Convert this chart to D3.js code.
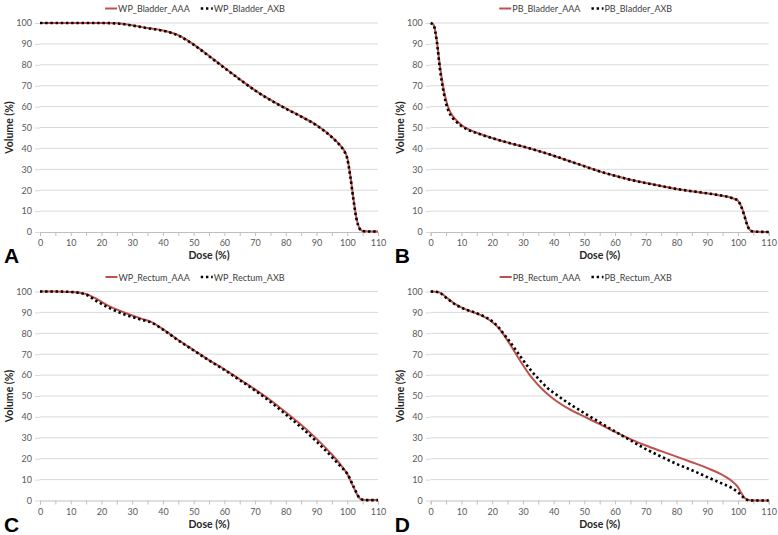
<!DOCTYPE html>
<html><head><meta charset="utf-8">
<script src="https://cdn.jsdelivr.net/npm/d3@7"></script>
<style>
body{margin:0;background:#fff;}
svg{display:block;}
text{font-family:Lato,"Liberation Sans",Arial,sans-serif;}
</style></head>
<body><svg id="chart" width="778" height="535"></svg>
<script>
// ---------- DATA ----------
const xTickValues = [0,10,20,30,40,50,60,70,80,90,100,110];
const yTickValues = [0,10,20,30,40,50,60,70,80,90,100];

// Panel A – WP Bladder
const wpBladderDose = [0,10,20,25,30,35,40,45,50,55,60,65,70,75,80,85,90,95,98,99,100,101,102,103,104,105,106,110];
const wpBladderAAA  = [100,100,100,99.9,98.9,97.6,96.4,94.2,89.8,84.3,78.7,73.1,67.8,63.2,59.1,55.3,51.2,45.5,41,39,35.5,27,16,6.5,1.8,0.5,0.3,0.2];
const wpBladderAXB  = [100,100,100,99.8,98.8,97.5,96.3,94.0,89.6,84.1,78.5,73.0,67.7,63.1,59.0,55.2,51.0,45.3,40.8,38.7,35.0,26.4,15.5,6.2,1.6,0.5,0.3,0.2];

// Panel B – PB Bladder
const pbBladderDose = [0,1,2,3,4,5,6,7,8,10,12,15,20,25,30,35,40,45,50,55,60,65,70,75,80,85,90,95,98,100,101,102,103,104,105,110];
const pbBladderAAA  = [100,99,91.5,79.5,70,63,58.5,55.8,54,51.2,49.3,47.5,45,42.8,40.9,38.8,36.5,34,31.5,29,26.9,25,23.4,22,20.6,19.5,18.5,17.3,16.3,15,12.5,8.5,3.5,0.8,0.2,0];
const pbBladderAXB  = [100,98.8,91,78,68.5,61.5,57.2,54.8,53.2,50.7,49,47.3,44.9,42.8,40.9,38.8,36.5,34,31.5,29,26.9,25,23.4,22,20.6,19.5,18.5,17.3,16.3,15,12.3,8.2,3.3,0.7,0.2,0];

// Panel C – WP Rectum
const wpRectumDose = [0,5,10,15,18,22,27,33,36,40,45,50,55,60,65,70,75,80,85,90,95,98,100,102,104,105,106,110];
const wpRectumAAA  = [100,100,99.8,98.8,96.8,93.4,90.2,87,85.6,82,76.8,72,67.2,62.8,58,53.2,48,42.2,36.2,29.5,22,16.8,12.7,6.5,1.1,0.4,0.2,0.2];
const wpRectumAXB  = [100,100,99.8,98.5,95.8,92.5,89.3,86.5,85.3,81.8,76.6,71.8,67,62.5,57.6,52.6,47.2,41.2,35,28.2,20.8,16,12.8,6.8,1.2,0.4,0.2,0.2];

// Panel D – PB Rectum
const pbRectumDose = [0,2.5,5,8,11,14,17,20,22,24,26,28,30,32,34,36,38,40,45,50,55,60,65,70,75,80,85,90,95,98,100,101,102,103,104,110];
const pbRectumAAA  = [100,99.7,97.3,94,91.7,90,88.2,85.4,82.7,78.8,74.3,69.5,64.8,60.5,56.9,53.7,51,48.6,43.8,40.1,36.5,32.8,29.4,26.3,23.6,21,18.3,15.5,12.2,9.3,6.4,3.8,1.5,0.5,0.1,0];
const pbRectumAXB  = [100,99.7,97,93.8,91.6,90.1,88.3,85.8,83,79.3,75.5,71.3,67.3,63.4,59.9,56.8,53.8,51.6,46.4,41.8,37.4,33,28.8,24.6,21,17.5,14.5,11.2,8,6,4,2.6,1.2,0.3,0,0];

const panelLetters = ["A","B","C","D"];
const legendNames = [
  ["WP_Bladder_AAA","WP_Bladder_AXB"],
  ["PB_Bladder_AAA","PB_Bladder_AXB"],
  ["WP_Rectum_AAA","WP_Rectum_AXB"],
  ["PB_Rectum_AAA","PB_Rectum_AXB"]
];
const xTitle = "Dose (%)";
const yTitle = "Volume (%)";

// ---------- DRAW ----------
const svg = d3.select("#chart");
const RED = "#c0504d";
const panels = [
  {ox:0,     oy:0,     dose:wpBladderDose, aaa:wpBladderAAA, axb:wpBladderAXB},
  {ox:390.7, oy:0,     dose:pbBladderDose, aaa:pbBladderAAA, axb:pbBladderAXB},
  {ox:0,     oy:268.5, dose:wpRectumDose,  aaa:wpRectumAAA,  axb:wpRectumAXB},
  {ox:390.7, oy:268.5, dose:pbRectumDose,  aaa:pbRectumAAA,  axb:pbRectumAXB}
];
const L=40, R=378, T=23, B=232;

panels.forEach((p,i)=>{
  const g = svg.append("g").attr("transform",`translate(${p.ox},${p.oy})`);
  const x = d3.scaleLinear().domain([0,110]).range([L,R]);
  const y = d3.scaleLinear().domain([0,100]).range([B,T]);

  // gridlines
  g.append("g").selectAll("line").data(yTickValues.filter(v=>v>0)).join("line")
    .attr("x1",L).attr("x2",R).attr("y1",d=>y(d)).attr("y2",d=>y(d))
    .attr("stroke","#d9d9d9").attr("stroke-width",1);

  // y axis
  const ya = g.append("g").attr("transform",`translate(${L},0)`)
    .call(d3.axisLeft(y).tickValues(yTickValues).tickSize(5).tickPadding(3));
  ya.select(".domain").remove();
  ya.selectAll(".tick line").attr("stroke","#d9d9d9");
  ya.selectAll("text").attr("fill","#595959").style("font-size","9px");

  // x axis
  const xa = g.append("g").attr("transform",`translate(0,${B})`)
    .call(d3.axisBottom(x).tickValues(d3.range(0,111,5)).tickSize(4).tickPadding(4)
      .tickFormat(d=> xTickValues.includes(d)? d : ""));
  xa.select(".domain").attr("stroke","#bfbfbf");
  xa.selectAll(".tick line").attr("stroke","#bfbfbf");
  xa.selectAll("text").attr("fill","#595959").style("font-size","9px");

  // lines
  const line = d3.line().x((d,k)=>x(p.dose[k])).y(d=>y(d)).curve(d3.curveMonotoneX);
  g.append("path").datum(p.aaa).attr("d",line).attr("fill","none")
    .attr("stroke",RED).attr("stroke-width",2);
  g.append("path").datum(p.axb).attr("d",line).attr("fill","none")
    .attr("stroke","#000").attr("stroke-width",2.6).attr("stroke-dasharray","2.4,2.8");

  // axis titles
  g.append("text").attr("x",(L+R)/2).attr("y",259).attr("text-anchor","middle")
    .style("font-size","10.5px").style("font-weight","bold").attr("fill","#262626").text(xTitle);
  g.append("text").attr("transform",`translate(13,${(T+B)/2}) rotate(-90)`).attr("text-anchor","middle")
    .style("font-size","10.5px").style("font-weight","bold").attr("fill","#262626").text(yTitle);

  // panel letter
  g.append("text").attr("x",4).attr("y",263)
    .style("font-family","'Liberation Sans',Arial,sans-serif")
    .style("font-size","21px").style("font-weight","bold").attr("fill","#000").text(panelLetters[i]);

  // legend
  const lg = g.append("g");
  const it1 = lg.append("g");
  it1.append("line").attr("x1",0).attr("x2",12).attr("y1",8.5).attr("y2",8.5).attr("stroke",RED).attr("stroke-width",2);
  const t1 = it1.append("text").attr("x",13).attr("y",12).style("font-size","9px").attr("fill","#404040").text(legendNames[i][0]);
  const w1 = 13 + t1.node().getComputedTextLength();
  const it2 = lg.append("g").attr("transform",`translate(${w1+11},0)`);
  it2.append("line").attr("x1",0).attr("x2",12).attr("y1",8.5).attr("y2",8.5).attr("stroke","#000").attr("stroke-width",2.6).attr("stroke-dasharray","2.4,2.8");
  const t2 = it2.append("text").attr("x",13).attr("y",12).style("font-size","9px").attr("fill","#404040").text(legendNames[i][1]);
  const wTot = w1 + 11 + 13 + t2.node().getComputedTextLength();
  lg.attr("transform",`translate(${195 - wTot/2},0)`);
});
</script>
</body></html>
